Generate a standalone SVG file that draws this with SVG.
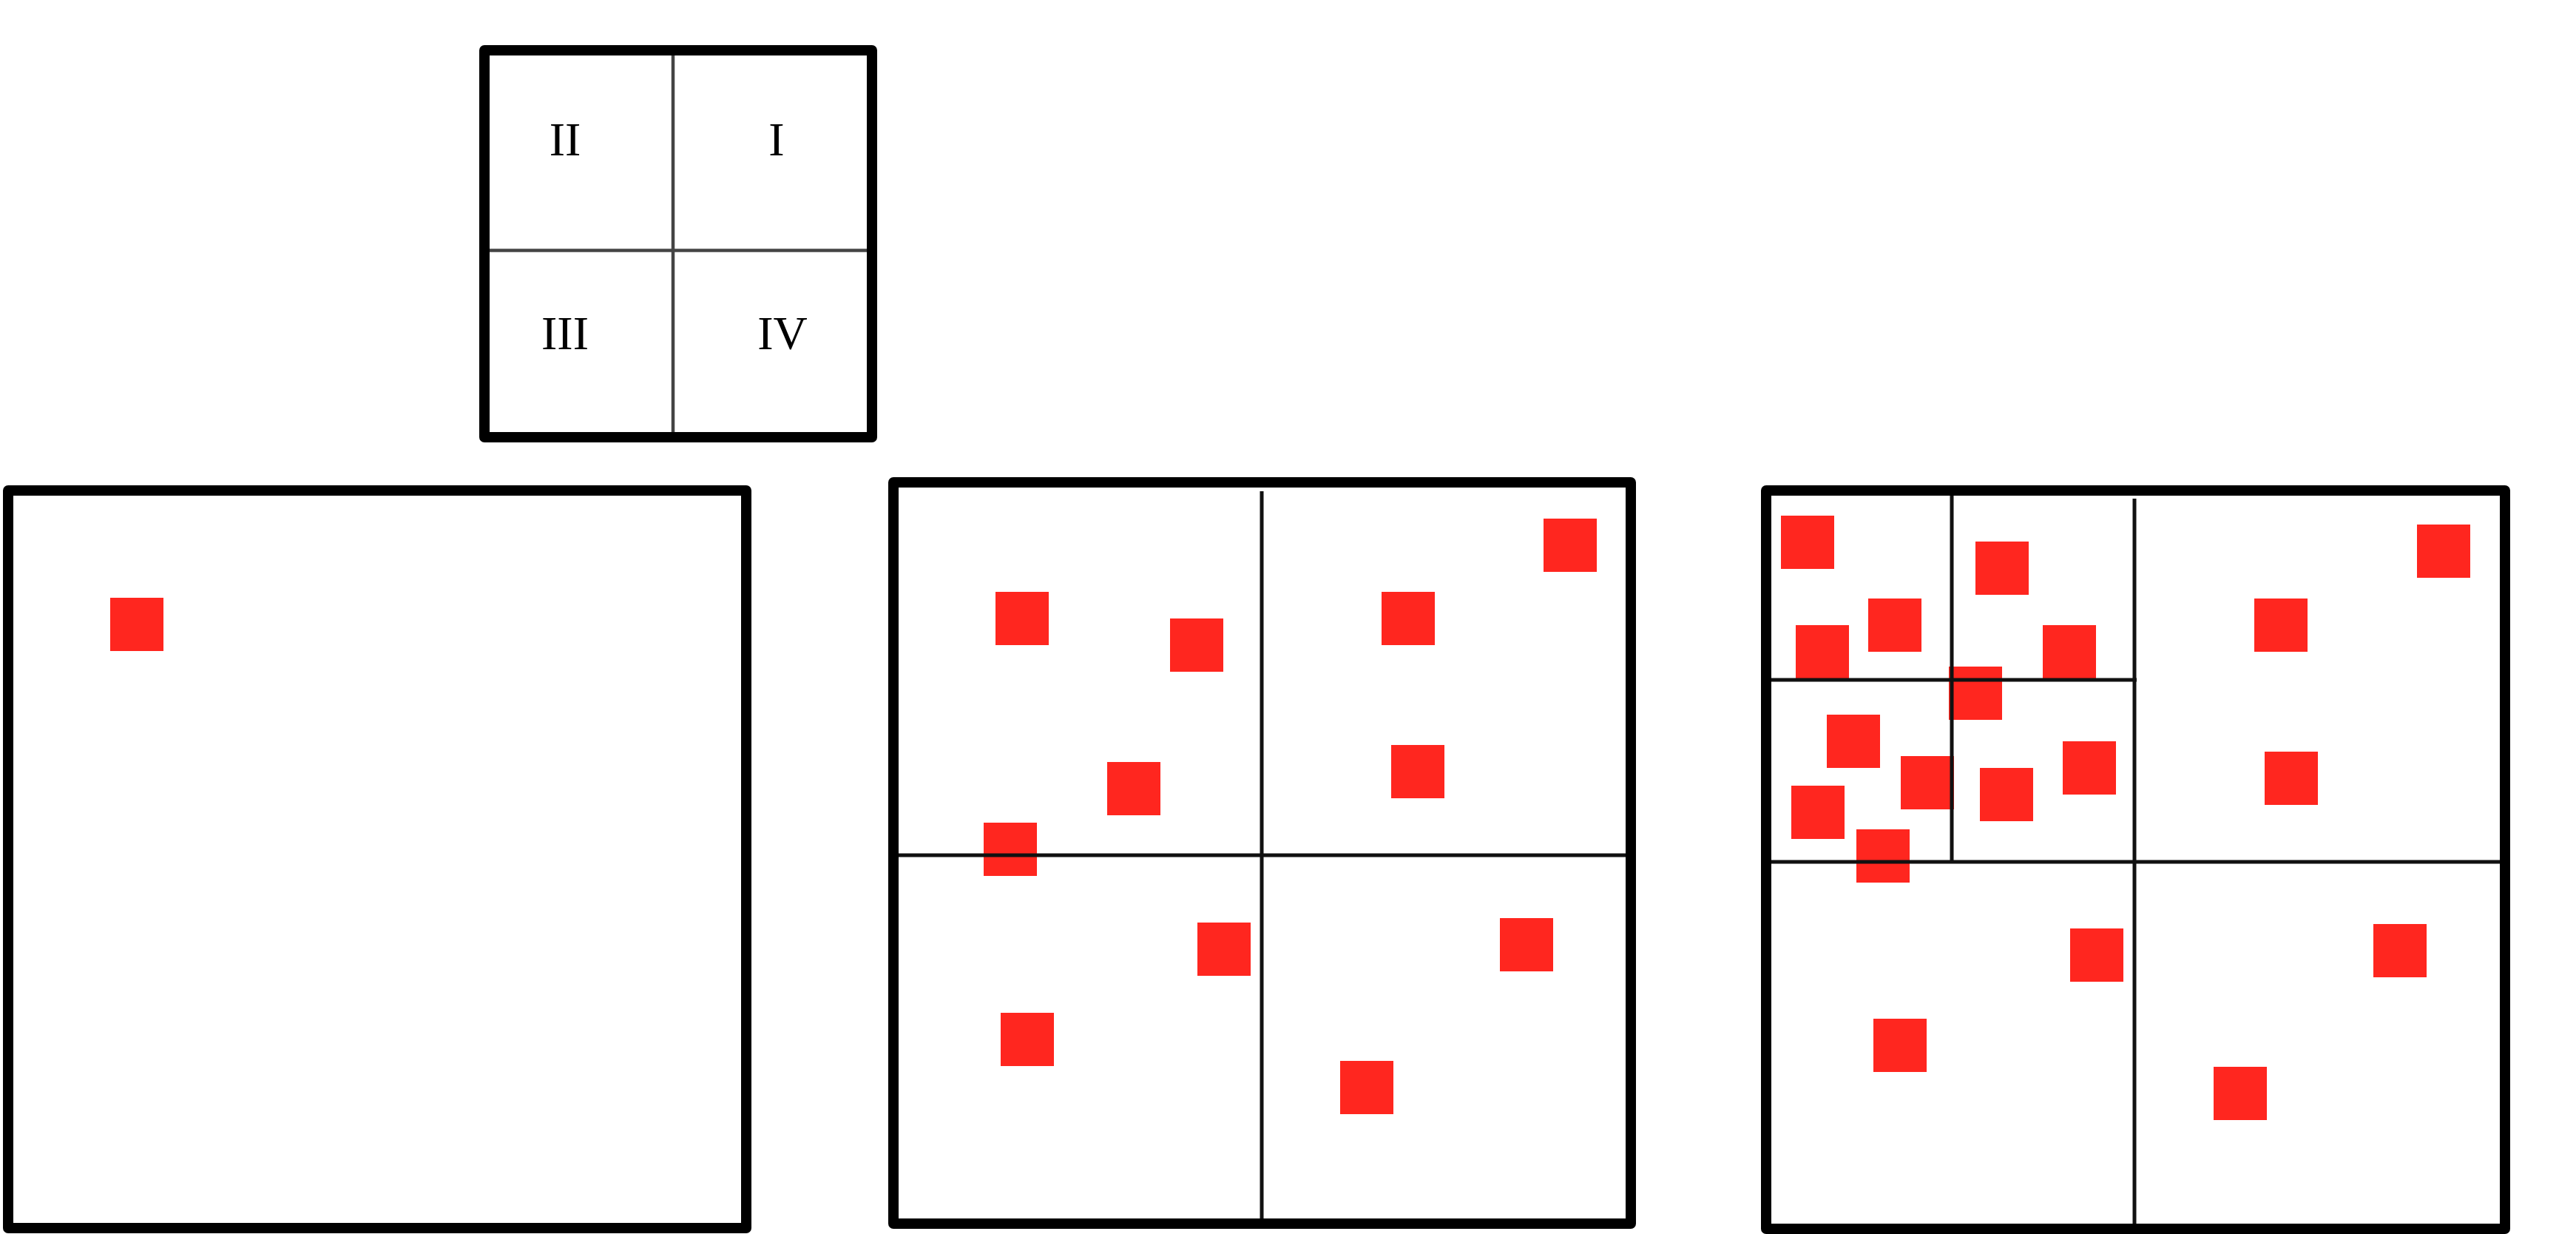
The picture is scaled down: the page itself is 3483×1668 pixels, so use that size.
<svg xmlns="http://www.w3.org/2000/svg" width="3483" height="1668" viewBox="0 0 3483 1668">
<style>
.frame{fill:none;stroke:#000;stroke-width:14;stroke-linejoin:round}
.div{stroke:#111;stroke-width:5;fill:none}
.divg{stroke:#444;stroke-width:4.5;fill:none}
.pt{fill:#ff261f}
.lbl{font-family:"Liberation Serif","Times New Roman",serif;font-size:64px;fill:#000;text-anchor:middle}
</style>
<rect width="3483" height="1668" fill="#fff"/>
<g id="legend">
<line class="divg" x1="910" y1="75" x2="910" y2="584"/>
<line class="divg" x1="662" y1="338.5" x2="1172" y2="338.5"/>
<rect class="frame" x="655" y="68" width="524" height="523"/>
<text class="lbl" x="764" y="210">II</text>
<text class="lbl" x="1050" y="210">I</text>
<text class="lbl" x="764" y="472">III</text>
<text class="lbl" x="1058" y="472">IV</text>
</g>
<g id="panel1">
<rect class="pt" x="149" y="808" width="72" height="72"/>
<rect class="frame" x="11" y="663" width="998" height="997"/>
</g>
<g id="panel2">
<rect class="pt" x="1346" y="800" width="72" height="72"/>
<rect class="pt" x="1582" y="836" width="72" height="72"/>
<rect class="pt" x="1868" y="800" width="72" height="72"/>
<rect class="pt" x="2087" y="701" width="72" height="72"/>
<rect class="pt" x="1881" y="1007" width="72" height="72"/>
<rect class="pt" x="1497" y="1030" width="72" height="72"/>
<rect class="pt" x="1330" y="1112" width="72" height="72"/>
<rect class="pt" x="1619" y="1247" width="72" height="72"/>
<rect class="pt" x="2028" y="1241" width="72" height="72"/>
<rect class="pt" x="1353" y="1369" width="72" height="72"/>
<rect class="pt" x="1812" y="1434" width="72" height="72"/>
<line class="div" x1="1706" y1="664" x2="1706" y2="1648"/>
<line class="div" x1="1215" y1="1156" x2="2199" y2="1156"/>
<rect class="frame" x="1208" y="652" width="997" height="1002"/>
</g>
<g id="panel3">
<rect class="pt" x="2408" y="697" width="72" height="72"/>
<rect class="pt" x="2671" y="732" width="72" height="72"/>
<rect class="pt" x="2526" y="809" width="72" height="72"/>
<rect class="pt" x="2428" y="845" width="72" height="72"/>
<rect class="pt" x="2762" y="845" width="72" height="72"/>
<rect class="pt" x="2635" y="901" width="72" height="72"/>
<rect class="pt" x="2470" y="966" width="72" height="72"/>
<rect class="pt" x="2570" y="1022" width="72" height="72"/>
<rect class="pt" x="2789" y="1002" width="72" height="72"/>
<rect class="pt" x="2677" y="1038" width="72" height="72"/>
<rect class="pt" x="2422" y="1062" width="72" height="72"/>
<rect class="pt" x="2510" y="1121" width="72" height="72"/>
<rect class="pt" x="3048" y="809" width="72" height="72"/>
<rect class="pt" x="3268" y="709" width="72" height="72"/>
<rect class="pt" x="3062" y="1016" width="72" height="72"/>
<rect class="pt" x="2799" y="1255" width="72" height="72"/>
<rect class="pt" x="3209" y="1249" width="72" height="72"/>
<rect class="pt" x="2533" y="1377" width="72" height="72"/>
<rect class="pt" x="2993" y="1442" width="72" height="72"/>
<line class="div" x1="2886" y1="674" x2="2886" y2="1655"/>
<line class="div" x1="2395" y1="1165" x2="3380" y2="1165"/>
<line class="div" x1="2639" y1="670" x2="2639" y2="1165"/>
<line class="div" x1="2395" y1="919" x2="2889" y2="919"/>
<rect class="frame" x="2388" y="663" width="999" height="998"/>
</g>
</svg>
